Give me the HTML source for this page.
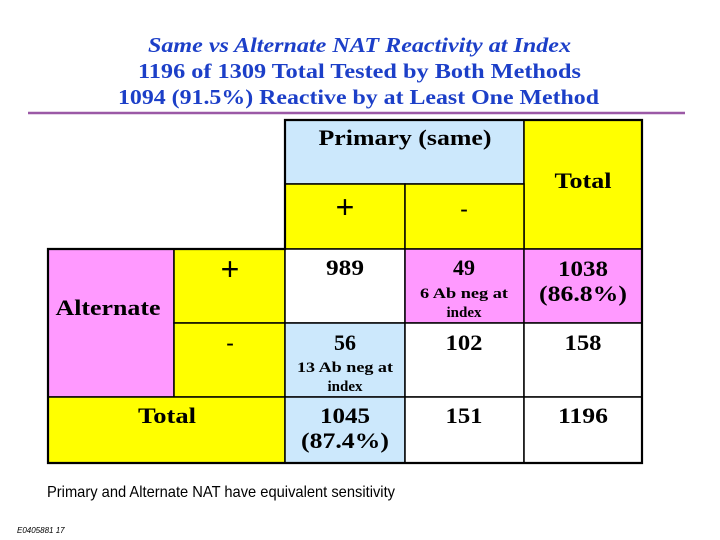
<!DOCTYPE html>
<html><head><meta charset="utf-8"><style>
html,body{margin:0;padding:0;background:#fff;}
svg{display:block;}
.t{font-family:"Liberation Serif","Times New Roman",serif;font-weight:bold;fill:#1c3fc8;font-size:21px;}
.c{font-family:"Liberation Serif","Times New Roman",serif;font-weight:bold;fill:#000;font-size:22px;text-anchor:middle;}
.s{font-family:"Liberation Serif","Times New Roman",serif;font-weight:bold;fill:#000;font-size:15px;text-anchor:middle;}
.p{font-family:"Liberation Sans",sans-serif;font-weight:normal;fill:#000;font-size:32px;text-anchor:middle;}
</style></head><body>
<svg width="720" height="540" viewBox="0 0 720 540">
<text class="t" x="148" y="52" textLength="423" lengthAdjust="spacingAndGlyphs" font-style="italic">Same vs Alternate NAT Reactivity at Index</text>
<text class="t" x="138" y="78" textLength="443" lengthAdjust="spacingAndGlyphs">1196 of 1309 Total Tested by Both Methods</text>
<text class="t" x="118" y="104" textLength="481" lengthAdjust="spacingAndGlyphs">1094 (91.5%) Reactive by at Least One Method</text>
<line x1="28" y1="113" x2="685" y2="113" stroke="#9b59a6" stroke-width="2.5"/>

<g stroke="#000" stroke-width="1.5">
<rect x="285" y="120" width="239" height="64" fill="#cce8fc"/>
<rect x="524" y="120" width="118" height="129" fill="#ffff00"/>
<rect x="285" y="184" width="120" height="65" fill="#ffff00"/>
<rect x="405" y="184" width="119" height="65" fill="#ffff00"/>
<rect x="48" y="249" width="126" height="148" fill="#ff99ff"/>
<rect x="174" y="249" width="111" height="74" fill="#ffff00"/>
<rect x="174" y="323" width="111" height="74" fill="#ffff00"/>
<rect x="285" y="249" width="120" height="74" fill="#ffffff"/>
<rect x="405" y="249" width="119" height="74" fill="#ff99ff"/>
<rect x="524" y="249" width="118" height="74" fill="#ff99ff"/>
<rect x="285" y="323" width="120" height="74" fill="#cce8fc"/>
<rect x="405" y="323" width="119" height="74" fill="#ffffff"/>
<rect x="524" y="323" width="118" height="74" fill="#ffffff"/>
<rect x="48" y="397" width="237" height="66" fill="#ffff00"/>
<rect x="285" y="397" width="120" height="66" fill="#cce8fc"/>
<rect x="405" y="397" width="119" height="66" fill="#ffffff"/>
<rect x="524" y="397" width="118" height="66" fill="#ffffff"/>
<path d="M285 120 H642 V463 H48 V249 H285 Z" fill="none" stroke-width="2.2"/>
</g>

<g>
<text class="c" x="405" y="145" textLength="173" lengthAdjust="spacingAndGlyphs">Primary (same)</text>
<text class="c" x="583" y="188" textLength="57" lengthAdjust="spacingAndGlyphs">Total</text>
<text class="p" x="345" y="218">+</text>
<text class="c" x="464" y="216">-</text>
<text class="c" x="108" y="315" textLength="105" lengthAdjust="spacingAndGlyphs">Alternate</text>
<text class="p" x="230" y="280">+</text>
<text class="c" x="230" y="350">-</text>
<text class="c" x="345" y="275" textLength="38" lengthAdjust="spacingAndGlyphs">989</text>
<text class="c" x="464" y="275">49</text>
<text class="s" x="464" y="298" textLength="88" lengthAdjust="spacingAndGlyphs">6 Ab neg at</text>
<text class="s" x="464" y="317">index</text>
<text class="c" x="583" y="276" textLength="50" lengthAdjust="spacingAndGlyphs">1038</text>
<text class="c" x="583" y="301" textLength="88" lengthAdjust="spacingAndGlyphs">(86.8%)</text>
<text class="c" x="345" y="350">56</text>
<text class="s" x="345" y="372" textLength="96" lengthAdjust="spacingAndGlyphs">13 Ab neg at</text>
<text class="s" x="345" y="391">index</text>
<text class="c" x="464" y="350" textLength="37" lengthAdjust="spacingAndGlyphs">102</text>
<text class="c" x="583" y="350" textLength="37" lengthAdjust="spacingAndGlyphs">158</text>
<text class="c" x="167" y="423" textLength="58" lengthAdjust="spacingAndGlyphs">Total</text>
<text class="c" x="345" y="423" textLength="50" lengthAdjust="spacingAndGlyphs">1045</text>
<text class="c" x="345" y="448" textLength="88" lengthAdjust="spacingAndGlyphs">(87.4%)</text>
<text class="c" x="464" y="423" textLength="37" lengthAdjust="spacingAndGlyphs">151</text>
<text class="c" x="583" y="423" textLength="50" lengthAdjust="spacingAndGlyphs">1196</text>
</g>

<text x="47" y="497" font-family="Liberation Sans, sans-serif" font-size="16" textLength="348" lengthAdjust="spacingAndGlyphs">Primary and Alternate NAT have equivalent sensitivity</text>
<text x="17" y="533" font-family="Liberation Sans, sans-serif" font-size="8" font-style="italic">E0405881    17</text>
</svg>
</body></html>
